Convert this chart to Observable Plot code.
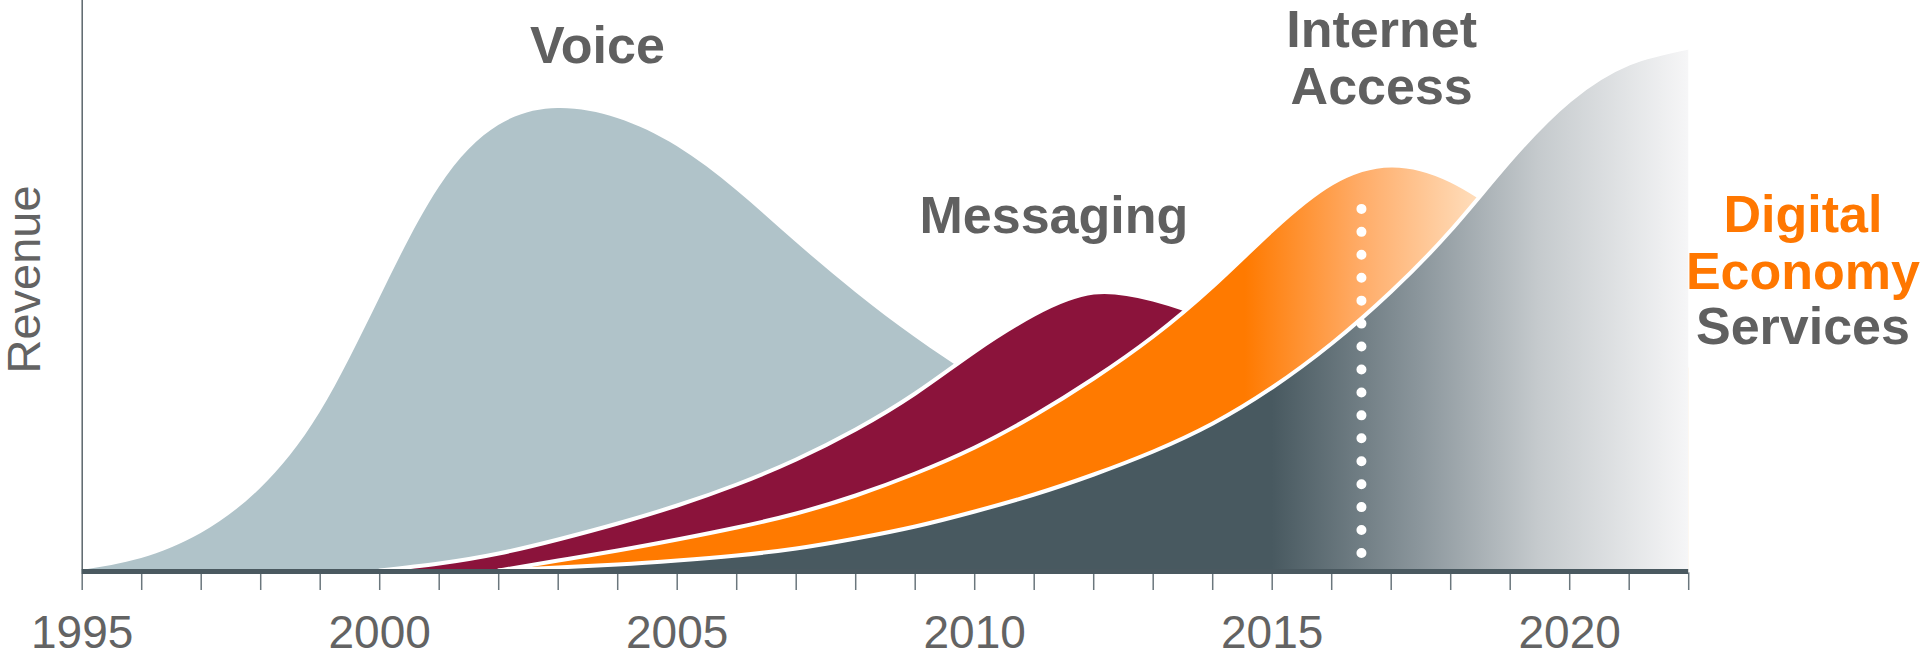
<!DOCTYPE html>
<html>
<head>
<meta charset="utf-8">
<script src="https://cdn.jsdelivr.net/npm/d3@7"></script>
<script src="https://cdn.jsdelivr.net/npm/@observablehq/plot@0.6"></script>
<style>
  html, body { margin: 0; padding: 0; background: #fff; overflow: hidden; }
</style>
</head>
<body>
<div id="chart"></div>
<script>
// ---- data (revenue in arbitrary units) ----
const years = [1995, 1996, 1997, 1998, 1999, 2000, 2001, 2002, 2003, 2004, 2005, 2006, 2007, 2008,
               2009, 2010, 2011, 2012, 2013, 2014, 2015, 2016, 2017, 2018, 2019, 2020, 2021, 2022];
const voice     = [0, 12, 37, 82, 158, 272, 383, 445, 462, 452, 424, 380, 328, 278,
                   233, 193, 157, 125, 97, 73, 53, 36, 22, 11, 4, 0, null, null];
const messaging = [null, null, null, null, null, 0, 7, 17, 31, 47, 65, 86, 111, 141,
                   177, 219, 256, 278, 271, 250, 215, 172, 128, 88, 55, 30, 12, 0];
const internet  = [null, null, null, null, null, null, null, 0, 10, 20, 31, 43, 57, 75,
                   97, 123, 155, 192, 234, 284, 340, 387, 405, 390, 352, 305, 255, 205];
const digital   = [null, null, null, null, null, null, null, 0, 3, 6, 10, 15, 22, 32,
                   44, 59, 76, 96, 119, 147, 183, 227, 279, 340, 410, 470, 507, 523];

const tickYears  = years;
const labelYears = [1995, 2000, 2005, 2010, 2015, 2020];

// series labels (anchored in data units: year, revenue)
const seriesLabels   = ["Voice", "Messaging", "Internet\nAccess"];
const seriesLabelX   = [2003.66, 2011.33, 2016.84];
const seriesLabelY   = [508, 338, 467];
const digitalLabel   = ["Digital\nEconomy"];
const servicesLabel  = ["Services"];
const rightLabelX    = [2023.92];
const digitalLabelY  = [282];
const servicesLabelY = [227];

// vertical dotted marker
const markerYear  = [2016.5];
const markerRange = [17, 384];

// ---- build tables ----
const rows = (vals) => years.map((year, i) => ({year, value: vals[i]})).filter(d => d.value != null);
const voiceRows = rows(voice), msgRows = rows(messaging), netRows = rows(internet), digRows = rows(digital);
const labelRows = seriesLabels.map((t, i) => ({text: t, year: seriesLabelX[i], value: seriesLabelY[i]}));
const digLabelRows = digitalLabel.map((t, i) => ({text: t, year: rightLabelX[i], value: digitalLabelY[i]}));
const svcLabelRows = servicesLabel.map((t, i) => ({text: t, year: rightLabelX[i], value: servicesLabelY[i]}));

const curve = "natural";
const labelFont = {fontSize: 52, fontWeight: "bold", lineAnchor: "bottom", lineHeight: 1.09};

const chart = Plot.plot({
  width: 1923,
  height: 660,
  marginTop: 0,
  marginBottom: 90,
  marginLeft: 81.7,
  marginRight: 234.8,
  style: {fontFamily: "'Liberation Sans', Arial, sans-serif", fontSize: "46px", color: "#636363", background: "#fff", overflow: "visible"},
  x: {domain: [1995, 2022], ticks: tickYears, tickFormat: d => labelYears.includes(d) ? String(d) : "",
      tickSize: 20, tickPadding: 25, label: null},
  y: {domain: [0, 570], axis: null},
  marks: [
    Plot.areaY(voiceRows, {x: "year", y: "value", fill: "#b0c3c9", curve}),
    Plot.areaY(msgRows, {x: "year", y: "value", fill: "#8b133b", curve}),
    Plot.lineY(msgRows, {x: "year", y: "value", stroke: "#fff", strokeWidth: 4, curve}),
    Plot.areaY(netRows, {x: "year", y: "value", fill: "url(#gradInternet)", curve}),
    Plot.lineY(netRows, {x: "year", y: "value", stroke: "#fff", strokeWidth: 4, curve}),
    Plot.areaY(digRows, {x: "year", y: "value", fill: "url(#gradDigital)", curve}),
    Plot.lineY(digRows, {x: "year", y: "value", stroke: "#fff", strokeWidth: 4, curve}),
    Plot.ruleX(markerYear, {y1: markerRange[0], y2: markerRange[1], stroke: "#fff", strokeWidth: 10,
      strokeDasharray: "0,22.94", strokeLinecap: "round"}),
    Plot.ruleX([years[0]], {stroke: "#5b666c", strokeWidth: 1.5}),
    Plot.ruleY([0], {stroke: "#4a5960", strokeWidth: 5, dy: 1}),
    Plot.text(labelRows, {x: "year", y: "value", text: "text", fill: "#606060", ...labelFont}),
    Plot.text(digLabelRows, {x: "year", y: "value", text: "text", fill: "#ff7700", ariaLabel: "digital-label", ...labelFont}),
    Plot.text(svcLabelRows, {x: "year", y: "value", text: "text", fill: "#606060", ...labelFont}),
    Plot.text(["Revenue"], {text: d => d, frameAnchor: "left", textAnchor: "middle", lineAnchor: "middle",
      dx: -57, dy: -6, rotate: -90, fontSize: 47, fill: "#636363"})
  ]
});

// ---- gradients (positions from the x scale) ----
const xs = chart.scale("x");
const ns = "http://www.w3.org/2000/svg";
const defs = document.createElementNS(ns, "defs");
function gradient(id, stops) {
  const g = document.createElementNS(ns, "linearGradient");
  g.setAttribute("id", id);
  g.setAttribute("gradientUnits", "userSpaceOnUse");
  const x1 = xs.apply(stops[0][0]), x2 = xs.apply(stops[stops.length - 1][0]);
  g.setAttribute("x1", x1); g.setAttribute("x2", x2);
  g.setAttribute("y1", 0); g.setAttribute("y2", 0);
  for (const [yr, color] of stops) {
    const s = document.createElementNS(ns, "stop");
    s.setAttribute("offset", (xs.apply(yr) - x1) / (x2 - x1));
    s.setAttribute("stop-color", color);
    g.appendChild(s);
  }
  defs.appendChild(g);
}
gradient("gradInternet", [[2014.55, "#ff7a00"], [2016.5, "#ffac68"], [2018.4, "#ffdcb9"]]);
gradient("gradDigital", [[2015.0, "#485960"], [2017.48, "#8b969c"], [2019.48, "#c5cacd"], [2022, "#f6f6f7"]]);
const f = document.createElementNS(ns, "filter");
f.setAttribute("id", "textShadow");
f.setAttribute("x", "-10%"); f.setAttribute("y", "-10%");
f.setAttribute("width", "130%"); f.setAttribute("height", "130%");
const ds = document.createElementNS(ns, "feDropShadow");
ds.setAttribute("dx", "2.5"); ds.setAttribute("dy", "2.5");
ds.setAttribute("stdDeviation", "1.6");
ds.setAttribute("flood-color", "#777"); ds.setAttribute("flood-opacity", "0.6");
f.appendChild(ds);
defs.appendChild(f);
chart.insertBefore(defs, chart.firstChild);

chart.querySelectorAll('g[aria-label="digital-label"]').forEach(g => g.setAttribute("filter", "url(#textShadow)"));

// tick styling
chart.querySelectorAll('g[aria-label="x-axis"] line').forEach(l => { l.setAttribute("stroke", "#6b777d"); l.setAttribute("stroke-width", "1.5"); });
chart.querySelectorAll('g[aria-label="x-axis tick"]').forEach(g => { g.setAttribute("stroke", "#6b777d"); g.setAttribute("stroke-width", "1.5"); });

document.getElementById("chart").appendChild(chart);
</script>
</body>
</html>
